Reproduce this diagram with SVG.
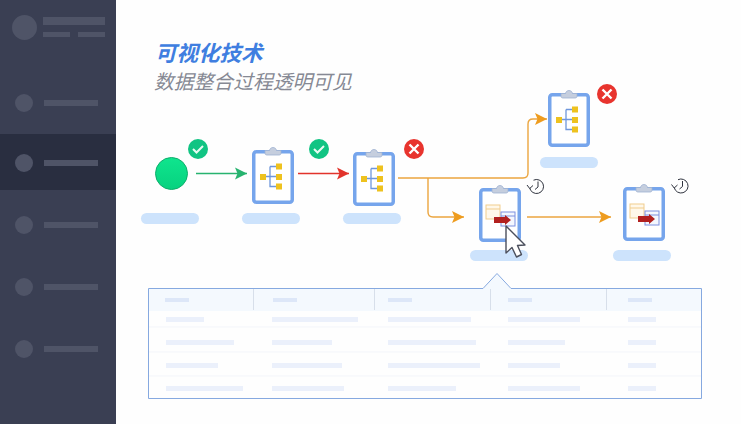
<svg xmlns="http://www.w3.org/2000/svg" width="741" height="424" viewBox="0 0 741 424">
<style>
.side{fill:#4f5467}
.pill{fill:#cde3fc}
.bar{fill:#ebf0fb}
.hbar{fill:#dde7f8}
.sep{stroke:#f3f5fa;stroke-width:1;fill:none}
.hsep{stroke:#d7dfea;stroke-width:1;fill:none}
.flow{fill:none;stroke-width:1.400}
.org{stroke:#eba53f}
.t1{font-family:"Noto Sans CJK SC","Liberation Sans",sans-serif;font-style:italic;font-size:21.500px;font-weight:700;fill:#3f7ee0}
.t2{font-family:"Noto Sans CJK SC","Liberation Sans",sans-serif;font-style:italic;font-size:19.800px;font-weight:400;fill:#868994}
</style>
<defs>
<marker id="ag" markerUnits="userSpaceOnUse" markerWidth="13" markerHeight="14" refX="12" refY="7" orient="auto"><path d="M0 1L12 7L0 13L2.500 7Z" fill="#27b36f"/></marker>
<marker id="ar" markerUnits="userSpaceOnUse" markerWidth="13" markerHeight="14" refX="12" refY="7" orient="auto"><path d="M0 1L12 7L0 13L2.500 7Z" fill="#e2332b"/></marker>
<marker id="ao" markerUnits="userSpaceOnUse" markerWidth="13" markerHeight="14" refX="12" refY="7" orient="auto"><path d="M0 1L12 7L0 13L2.500 7Z" fill="#ee9c1f"/></marker>
<g id="board">
<rect x="1.750" y="1.750" width="38.500" height="50.500" rx="2.500" fill="#fff" stroke="#76a5ec" stroke-width="3.500"/>
<path d="M13 3.500V0.500H17.500C18 -3.500 24 -3.500 24.500 0.500H29V3.500C29 4.500 28 5 27 5H15C14 5 13 4.500 13 3.500Z" fill="#c5cede" stroke="#9fb2d2" stroke-width="0.800"/>
</g>
<g id="tree">
<path d="M14 26.500H24M18 16.500V36.500H26M18 16.500H26" fill="none" stroke="#6f97dc" stroke-width="1.300"/>
<rect x="8" y="24" width="6" height="6" fill="#eec21f"/>
<rect x="24" y="13.500" width="6" height="6" fill="#eec21f"/>
<rect x="24" y="24" width="6" height="6" fill="#eec21f"/>
<rect x="24" y="33.500" width="6" height="6" fill="#eec21f"/>
</g>
<g id="transfer">
<rect x="7" y="17" width="14" height="14" fill="#fff8ea" stroke="#f1cd8e"/>
<path d="M7 21H21" stroke="#f1cd8e"/>
<rect x="22" y="24" width="14" height="14" fill="#f4f7fe" stroke="#7d90df"/>
<path d="M22 28H36" stroke="#7d90df"/>
<path d="M15 29H26V27L32 32L26 37V35H15Z" fill="#b2201f"/>
</g>
<g id="ok"><circle r="10" fill="#11c483"/><path d="M-5 0L-1.500 3.500L5 -3" fill="none" stroke="#e8fbf3" stroke-width="2"/></g>
<g id="bad"><circle r="10" fill="#e8342e"/><path d="M-4.500 -4.500L4.500 4.500M4.500 -4.500L-4.500 4.500" fill="none" stroke="#fff" stroke-width="2.400"/></g>
<g id="clock" fill="none" stroke="#30343f" stroke-width="1"><path d="M-3 -6.300A7 7 0 1 1 -6.800 1.500"/><path d="M-9.500 -1.500L-6.800 2L-3.500 -1"/><path d="M1.500 -5V0.500L-1.500 3"/></g>
<linearGradient id="gc" x1="0" y1="0" x2="0" y2="1"><stop offset="0" stop-color="#0fe58e"/><stop offset="1" stop-color="#07d27f"/></linearGradient>
</defs>
<rect width="741" height="424" fill="#fefefe"/>
<g id="sidebar">
<rect width="116" height="424" fill="#3a3f53"/>
<rect y="134" width="116" height="56" fill="#292e40"/>
<circle class="side" cx="24.500" cy="27.500" r="12.500"/>
<rect class="side" x="43" y="17" width="62" height="8"/>
<rect class="side" x="43" y="32" width="27" height="5"/>
<rect class="side" x="78" y="32" width="27" height="5"/>
<g id="menu1"><circle class="side" cx="24" cy="103" r="9"/><rect class="side" x="44" y="100" width="54" height="6"/></g>
<g id="menu2"><circle class="side" cx="24" cy="163" r="9"/><rect class="side" x="44" y="160" width="54" height="6"/></g>
<g id="menu3"><circle class="side" cx="24" cy="225" r="9"/><rect class="side" x="44" y="222" width="54" height="6"/></g>
<g id="menu4"><circle class="side" cx="24" cy="287" r="9"/><rect class="side" x="44" y="284" width="54" height="6"/></g>
<g id="menu5"><circle class="side" cx="24" cy="349" r="9"/><rect class="side" x="44" y="346" width="54" height="6"/></g>
</g>
<g id="title">
<text class="t1" x="155" y="61">可视化技术</text>
<text class="t2" x="154" y="89">数据整合过程透明可见</text>
</g>
<g id="connectors">
<path class="flow" stroke="#27b36f" d="M196 173.500H247" marker-end="url(#ag)"/>
<path class="flow" stroke="#e2332b" d="M298 173.500H349" marker-end="url(#ar)"/>
<path class="flow org" d="M398 178H523Q528 178 528 173V124Q528 119 533 119H547" marker-end="url(#ao)"/>
<path class="flow org" d="M428 178V212Q428 217 433 217H464" marker-end="url(#ao)"/>
<path class="flow org" d="M527 217H611" marker-end="url(#ao)"/>
</g>
<g id="start"><circle cx="171.500" cy="173.500" r="16" fill="url(#gc)" stroke="#0eae6c" stroke-width="1"/><use href="#ok" x="198" y="149"/><rect class="pill" x="141" y="213" width="58" height="11" rx="5.500"/></g>
<g id="node1"><use href="#board" x="252" y="150"/><use href="#tree" x="252" y="150"/><use href="#ok" x="319" y="149"/><rect class="pill" x="242" y="213" width="58" height="11" rx="5.500"/></g>
<g id="node2"><use href="#board" x="353" y="152"/><use href="#tree" x="353" y="152"/><use href="#bad" x="414" y="149"/><rect class="pill" x="343" y="213" width="58" height="11" rx="5.500"/></g>
<g id="node3"><use href="#board" x="548" y="93"/><use href="#tree" x="548" y="93"/><use href="#bad" x="607" y="94"/><rect class="pill" x="540" y="157" width="58" height="11" rx="5.500"/></g>
<g id="node4"><rect class="pill" x="470" y="250" width="58" height="11" rx="5.500"/><use href="#board" x="479" y="188"/><use href="#transfer" x="479" y="188"/><use href="#clock" x="536.500" y="186.500"/></g>
<g id="node5"><rect class="pill" x="613" y="250" width="58" height="11" rx="5.500"/><use href="#board" x="623" y="187"/><use href="#transfer" x="623" y="187"/><use href="#clock" x="681" y="186"/></g>
<g id="table">
<path d="M149 289H483L497 274L511 289H701V311H149Z" fill="#f4f9fe"/>
<path d="M148.500 288.500H483L497 273.500L511 288.500H701.500V398.500H148.500Z" fill="none" stroke="#86a9e0" stroke-width="1"/>
<path class="hsep" d="M253.500 289V310M374.500 289V310M490.500 289V310M606.500 289V310"/>
<path class="sep" d="M149 327H701M149 352H701M149 376H701"/>
<rect class="hbar" x="165" y="298" width="24" height="4"/><rect class="hbar" x="273" y="298" width="24" height="4"/><rect class="hbar" x="388" y="298" width="24" height="4"/><rect class="hbar" x="508" y="298" width="24" height="4"/><rect class="hbar" x="628" y="298" width="24" height="4"/>
<rect class="bar" x="166" y="317" width="38" height="5"/><rect class="bar" x="272" y="317" width="86" height="5"/><rect class="bar" x="388" y="317" width="83" height="5"/><rect class="bar" x="508" y="317" width="72" height="5"/><rect class="bar" x="628" y="317" width="28" height="5"/>
<rect class="bar" x="166" y="340" width="68" height="5"/><rect class="bar" x="272" y="340" width="60" height="5"/><rect class="bar" x="388" y="340" width="88" height="5"/><rect class="bar" x="508" y="340" width="57" height="5"/><rect class="bar" x="628" y="340" width="28" height="5"/>
<rect class="bar" x="166" y="363" width="52" height="5"/><rect class="bar" x="272" y="363" width="70" height="5"/><rect class="bar" x="388" y="363" width="92" height="5"/><rect class="bar" x="508" y="363" width="52" height="5"/><rect class="bar" x="628" y="363" width="28" height="5"/>
<rect class="bar" x="166" y="386" width="77" height="5"/><rect class="bar" x="272" y="386" width="72" height="5"/><rect class="bar" x="388" y="386" width="68" height="5"/><rect class="bar" x="508" y="386" width="72" height="5"/><rect class="bar" x="628" y="386" width="28" height="5"/>
</g>
<path id="cursor" d="M506 226V253L512 247.500L516.500 257L521.500 254.500L517.500 245.500L525 245Z" fill="#fff" stroke="#4b4f5c" stroke-width="1.400" stroke-linejoin="round"/>
</svg>
